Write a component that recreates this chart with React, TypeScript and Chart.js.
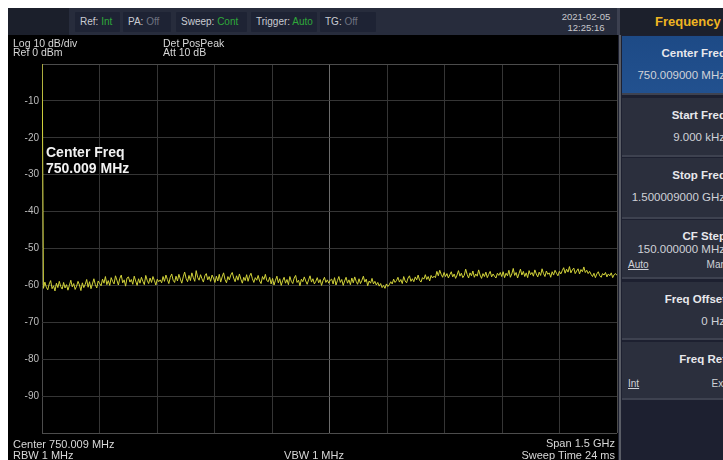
import React, { useEffect, useRef } from 'react';
import { Chart, registerables } from 'chart.js';

Chart.register(...registerables);

// ---- data ----
const START_MHZ = 0.009;
const STOP_MHZ = 1500.009;
const REF_LEVEL_DBM = 0;
const BOTTOM_LEVEL_DBM = -100;
const DB_PER_DIV = 10;
const X_DIVISIONS = 10;

// LO feed-through at the start frequency (off the top of the screen)
const START_SPIKE_DBM = [8.0];

// noise floor (dBm), left to right
const TRACE_LOW_BAND = [
  -60.8, -59.1, -60.5, -61.2, -59.6, -58.7, -60.9, -60.1, -61.5, -59.4,
  -60.6, -58.9, -60.3, -61.0, -59.2, -60.7, -59.8, -61.3, -60.0, -58.6,
  -60.4, -59.5, -61.1, -60.2, -58.9, -59.9, -61.4, -59.3, -60.6, -59.7,
  -58.4, -60.5, -59.0, -60.9, -59.6, -58.2, -59.8, -60.7, -58.8, -59.5,
  -60.1, -58.3, -59.4, -57.6, -59.8, -58.7, -60.0, -57.9, -58.9, -59.6,
  -57.4, -58.6, -59.9, -58.1, -57.2, -59.3, -58.5, -60.2, -58.0, -57.7,
  -59.1, -58.4, -59.7, -57.5, -58.8, -60.0, -58.2, -59.4, -57.8, -58.9,
  -59.8, -57.3, -58.6, -59.5, -58.0, -59.2, -57.6, -58.7, -59.9, -58.3,
  -59.0, -58.5,
  -59.3, -57.6, -58.9, -57.2, -58.4, -59.5, -57.8, -56.9, -58.6, -59.2,
  -57.5, -58.8, -57.0, -58.3, -59.4, -57.7, -56.4, -58.1, -59.0, -57.3,
  -58.7, -56.6, -57.9, -58.9, -56.0, -57.8, -58.6, -57.1, -58.2, -59.1,
  -57.4, -56.8, -58.5, -57.6, -58.9, -57.2, -58.0, -59.2,
  -57.5, -58.8, -57.0, -59.1, -57.7, -56.6, -58.4, -59.3, -57.6, -58.5,
  -57.2, -56.5, -58.0, -59.0, -57.4, -58.6, -56.9, -58.3, -59.4, -57.8,
  -58.7, -57.1, -58.9, -57.5, -56.7, -58.2, -59.2, -57.9, -58.6, -57.3,
  -58.8, -59.5, -57.6, -58.4, -57.0, -58.7, -59.0, -57.8,
];

const TRACE_MID_BAND = [
  -59.6, -58.1, -59.9, -58.6, -57.5, -59.3, -58.2, -60.0, -58.7, -57.8,
  -59.4, -58.4, -59.8, -57.6, -58.9, -59.5, -58.0, -57.3, -59.2, -58.6,
  -60.1, -58.3, -59.0, -57.7, -58.8, -59.7, -58.5, -57.4, -59.1, -58.2,
  -59.6, -58.9, -57.9, -59.3, -58.4, -60.0, -58.7, -57.8, -59.2, -58.5,
  -59.4, -58.6,
  -58.3, -59.6, -57.9, -59.9, -58.7, -57.6, -59.2, -58.4, -60.0, -58.8,
  -57.8, -59.4, -58.5, -59.8, -58.0, -59.3, -57.7, -58.9, -59.7, -58.2,
  -59.5, -58.6, -57.5, -59.1, -58.3, -60.1, -58.8, -59.4, -58.1, -59.6,
  -58.9, -59.9, -59.2, -60.2, -59.5, -60.6, -60.0, -60.8, -59.6, -60.3,
  -59.8, -59.0, -59.6, -58.3, -59.2, -58.7, -57.8, -59.1, -58.4, -59.5,
  -57.6, -58.8, -59.3, -58.0, -57.4, -58.9, -58.2, -59.0, -57.7, -58.5,
  -57.2, -58.6, -59.1, -57.9, -58.3, -57.1, -58.4, -57.6, -58.8, -57.3,
  -58.0, -57.5, -57.9,
];

const TRACE_HIGH_BAND = [
  -56.2, -57.4, -55.9, -57.0, -57.8, -56.5, -57.6, -56.8, -58.0, -57.1,
  -56.3, -57.7, -56.9, -58.1, -57.2, -56.0, -57.5, -56.7, -57.9, -57.3,
  -55.6, -57.0, -58.0, -56.6, -57.4, -56.1, -57.8, -56.9, -57.5, -55.8,
  -57.2, -58.1, -56.8, -57.6, -56.4, -57.9, -57.0, -56.2, -57.7, -56.9,
  -57.5, -58.0, -56.7, -57.3, -56.5,
  -57.6, -56.3, -57.9, -56.7, -57.4, -55.9, -57.8, -56.9, -55.4, -57.3,
  -56.5, -58.0, -56.8, -55.6, -57.2, -56.2, -57.6, -56.6, -57.9, -56.0,
  -57.1, -56.5, -57.5, -55.8, -56.9, -57.7, -56.4, -57.3, -55.5, -56.8,
  -57.6, -56.1, -57.0, -56.6, -57.8, -56.3, -57.2, -55.9, -56.7, -57.4,
  -56.2, -56.9,
  -56.0, -55.2, -56.7, -55.6, -56.4, -54.9, -56.6, -55.8, -55.3, -56.8,
  -56.1, -55.5, -56.9, -55.7, -56.3, -55.0, -56.5, -55.9, -56.8, -56.2, -57.0,
  -57.6, -56.7, -57.9, -56.9, -56.3, -57.4, -57.8, -56.8, -57.2, -56.5,
  -57.7, -56.9, -57.4, -56.6, -57.9, -57.1, -56.8, -57.3,
];

const TRACE_DBM = [...START_SPIKE_DBM, ...TRACE_LOW_BAND, ...TRACE_MID_BAND, ...TRACE_HIGH_BAND];

const STATUS_LABELS = ['Ref:', 'PA:', 'Sweep:', 'Trigger:', 'TG:'];
const STATUS_VALUES = ['Int', 'Off', 'Cont', 'Auto', 'Off'];
const STATUS_ACTIVE = [true, false, true, true, false];

const DATE_TEXT = '2021-02-05';
const TIME_TEXT = '12:25:16';
const MENU_HEADER = 'Frequency';
const MENU_TITLES = ['Center Freq', 'Start Freq', 'Stop Freq', 'CF Step', 'Freq Offset', 'Freq Ref'];
const MENU_VALUES = ['750.009000 MHz', '9.000 kHz', '1.500009000 GHz', '150.000000 MHz', '0 Hz', ''];
const MENU_OPTIONS: string[][] = [[], [], [], ['Auto', 'Man'], [], ['Int', 'Ext']];

const INFO_TOP_LEFT = ['Log 10 dB/div', 'Ref 0 dBm'];
const INFO_TOP_MID = ['Det PosPeak', 'Att 10 dB'];
const MARKER_TEXT = ['Center Freq', '750.009 MHz'];
const INFO_BOTTOM_LEFT = ['Center 750.009 MHz', 'RBW 1 MHz'];
const INFO_BOTTOM_MID = 'VBW 1 MHz';
const INFO_BOTTOM_RIGHT = ['Span 1.5 GHz', 'Sweep Time 24 ms'];

// sweep point frequencies
const FREQS_MHZ = TRACE_DBM.map((_, i) => START_MHZ + (i * (STOP_MHZ - START_MHZ)) / (TRACE_DBM.length - 1));

// ---- layout ----
const FONT = '"Liberation Sans", Arial, sans-serif';
const MENU_BOXES = [
  [36, 93],
  [98, 155],
  [158, 217],
  [220, 277],
  [282, 338],
  [342, 398],
];
const STATUS_BOXES = [
  [75, 120],
  [123, 171],
  [176, 247],
  [251, 317],
  [320, 376],
];

type TProps = {
  x: number;
  y: number;
  text: string;
  size: number;
  color?: string;
  bold?: boolean;
  align?: 'left' | 'right' | 'center';
  underline?: boolean;
};

function T({ x, y, text, size, color = '#d8d8d8', bold, align = 'left', underline }: TProps) {
  const lh = Math.round(size * 1.2);
  const style: React.CSSProperties = {
    position: 'absolute',
    top: y - lh / 2,
    lineHeight: lh + 'px',
    fontSize: size,
    fontFamily: FONT,
    fontWeight: bold ? 'bold' : 'normal',
    color,
    whiteSpace: 'nowrap',
    textDecoration: underline ? 'underline' : 'none',
  };
  if (align === 'left') style.left = x;
  else if (align === 'right') style.right = 723 - x;
  else {
    style.left = x - 200;
    style.width = 400;
    style.textAlign = 'center';
  }
  return <div style={style}>{text}</div>;
}

function Box({ l, t, w, h, bg, extra }: { l: number; t: number; w: number; h: number; bg: string; extra?: React.CSSProperties }) {
  return <div style={{ position: 'absolute', left: l, top: t, width: w, height: h, background: bg, ...extra }} />;
}

export default function App() {
  const canvasRef = useRef<HTMLCanvasElement | null>(null);

  useEffect(() => {
    if (!canvasRef.current) return;
    const gridColor = (i: number, n: number, center: boolean) => {
      if (center && i === n / 2) return '#6c6c6c';
      if (i === 0 || i === n) return '#4c4c4c';
      return '#353535';
    };
    const chart = new Chart(canvasRef.current, {
      type: 'line',
      data: {
        datasets: [
          {
            data: FREQS_MHZ.map((f, i) => ({ x: f, y: TRACE_DBM[i] })),
            borderColor: '#d2d33a',
            borderWidth: 1,
            pointRadius: 0,
            tension: 0,
          },
        ],
      },
      options: {
        animation: false,
        responsive: false,
        maintainAspectRatio: false,
        events: [],
        layout: { padding: { top: 29, right: 3, bottom: 27, left: 0 } },
        plugins: { legend: { display: false }, tooltip: { enabled: false } },
        scales: {
          x: {
            type: 'linear',
            min: START_MHZ,
            max: STOP_MHZ,
            afterBuildTicks: (s: any) => {
              s.ticks = Array.from({ length: X_DIVISIONS + 1 }, (_, i) => ({
                value: START_MHZ + (i * (STOP_MHZ - START_MHZ)) / X_DIVISIONS,
              }));
            },
            afterFit: (s: any) => {
              s.height = 0;
            },
            ticks: { display: false },
            grid: {
              drawTicks: false,
              color: (ctx: any) => gridColor(ctx.index, X_DIVISIONS, true),
            },
            border: { display: false },
          },
          y: {
            min: BOTTOM_LEVEL_DBM,
            max: REF_LEVEL_DBM,
            afterFit: (s: any) => {
              s.width = 34;
            },
            ticks: {
              stepSize: DB_PER_DIV,
              color: '#bdbdbd',
              padding: 3,
              font: { family: FONT, size: 10 },
              callback: (v: any) => (v === REF_LEVEL_DBM || v === BOTTOM_LEVEL_DBM ? '' : String(v)),
            },
            grid: {
              drawTicks: false,
              color: (ctx: any) => gridColor(ctx.index, 10, false),
            },
            border: { display: false },
          },
        },
      },
    });
    return () => chart.destroy();
  }, []);

  return (
    <div
      style={{
        position: 'fixed',
        left: 0,
        top: 0,
        width: 723,
        height: 460,
        overflow: 'hidden',
        background: '#ffffff',
      }}
    >
      {/* plot black area */}
      <Box l={8} t={35} w={612} h={430} bg="#000" />
      <canvas
        ref={canvasRef}
        width={612}
        height={425}
        style={{ position: 'absolute', left: 8, top: 35, width: 612, height: 425, display: 'block' }}
      />
      {/* top status bar */}
      <Box l={8} t={8} w={612} h={27} bg="#272c3c" />
      <Box l={8} t={8} w={61} h={27} bg="#1b1f2b" />
      {STATUS_BOXES.map(([a, b], i) => (
        <Box key={'sb' + i} l={a} t={12} w={b - a} h={20} bg="#1e2334" extra={{ borderRadius: 1 }} />
      ))}
      {STATUS_LABELS.map((lab, i) => (
        <div
          key={'sl' + i}
          style={{
            position: 'absolute',
            left: STATUS_BOXES[i][0] + 5,
            top: 15,
            lineHeight: '13px',
            fontSize: 10,
            fontFamily: FONT,
            color: '#c9cbd2',
            whiteSpace: 'nowrap',
          }}
        >
          {lab} <span style={{ color: STATUS_ACTIVE[i] ? '#2fa83a' : '#6e7280' }}>{STATUS_VALUES[i]}</span>
        </div>
      ))}
      <T x={586} y={16} text={DATE_TEXT} size={9.5} align="center" color="#c8c8cc" />
      <T x={586} y={27} text={TIME_TEXT} size={9.5} align="center" color="#c8c8cc" />
      {/* menu header */}
      <Box l={617} t={8} w={3} h={27} bg="#3c4050" />
      <Box l={620} t={8} w={103} h={27} bg="#1c202c" />
      <T x={655} y={22} text={MENU_HEADER} size={13} bold color="#f0b522" />
      {/* right panel */}
      <Box l={618} t={35} w={105} h={425} bg="#1d2030" />
      <Box l={619} t={35} w={2} h={425} bg="#5a5d66" />
      {MENU_BOXES.map(([a, b], i) => (
        <Box
          key={'mb' + i}
          l={622}
          t={a}
          w={110}
          h={b - a}
          bg={i === 0 ? 'linear-gradient(#1d4a86, #22518f)' : '#2b2f3d'}
          extra={{ borderBottom: '2px solid #3e4250' }}
        />
      ))}
      {MENU_TITLES.map((t, i) => (
        <T
          key={'mt' + i}
          x={726}
          y={MENU_BOXES[i][0] + (MENU_OPTIONS[i].length && i === 3 ? 16 : 17)}
          text={t}
          size={11.5}
          bold
          align="right"
          color="#e8e8ec"
        />
      ))}
      {MENU_VALUES.map((v, i) =>
        v ? (
          <T
            key={'mv' + i}
            x={725}
            y={MENU_BOXES[i][0] + (MENU_OPTIONS[i].length ? 29 : 39)}
            text={v}
            size={11.5}
            align="right"
            color="#d0d2d8"
          />
        ) : null
      )}
      {MENU_OPTIONS.map((opts, i) =>
        opts.length ? (
          <React.Fragment key={'mo' + i}>
            <T x={628} y={MENU_BOXES[i][0] + (i === 5 ? 42 : 45)} text={opts[0]} size={10} underline color="#d0d2d8" />
            <T x={726} y={MENU_BOXES[i][0] + (i === 5 ? 42 : 45)} text={opts[1]} size={10} align="right" color="#d0d2d8" />
          </React.Fragment>
        ) : null
      )}
      {/* plot annotations */}
      <T x={13} y={43} text={INFO_TOP_LEFT[0]} size={10.5} />
      <T x={13} y={52} text={INFO_TOP_LEFT[1]} size={10.5} />
      <T x={163} y={43} text={INFO_TOP_MID[0]} size={10.5} />
      <T x={163} y={52} text={INFO_TOP_MID[1]} size={10.5} />
      <T x={46} y={152} text={MARKER_TEXT[0]} size={14} bold color="#f2f2f2" />
      <T x={46} y={168} text={MARKER_TEXT[1]} size={14} bold color="#f2f2f2" />
      <T x={13} y={444} text={INFO_BOTTOM_LEFT[0]} size={11} />
      <T x={13} y={455} text={INFO_BOTTOM_LEFT[1]} size={11} />
      <T x={314} y={455} text={INFO_BOTTOM_MID} size={11} align="center" />
      <T x={615} y={443} text={INFO_BOTTOM_RIGHT[0]} size={11} align="right" />
      <T x={615} y={455} text={INFO_BOTTOM_RIGHT[1]} size={11} align="right" />
    </div>
  );
}
